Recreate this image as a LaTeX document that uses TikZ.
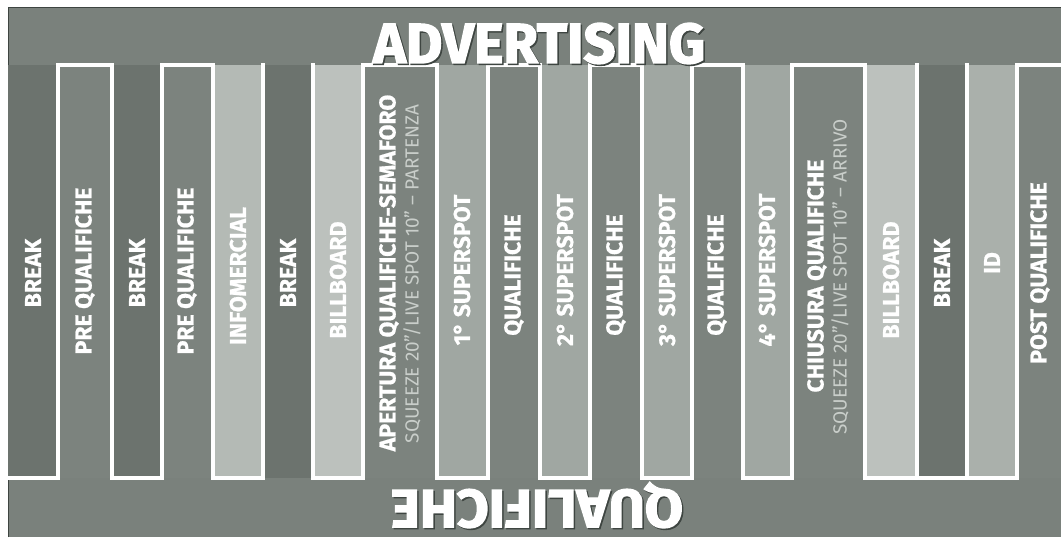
\documentclass[tikz,border=0pt]{standalone}
\usepackage{fontspec}
\setmainfont{Fira Sans}
\usepackage{graphicx}
\definecolor{bgc}{HTML}{7A817C}
\definecolor{cbreak}{HTML}{6C736E}
\definecolor{cqual}{HTML}{7C837E}
\definecolor{clight}{HTML}{B4BAB5}
\definecolor{cbill}{HTML}{BCC1BD}
\definecolor{cspot}{HTML}{A0A7A2}
\definecolor{cid}{HTML}{AAB0AB}
\definecolor{csub}{HTML}{C9CECA}
\definecolor{cshadow}{HTML}{3E4541}
\tikzset{
  lab/.style={text=white, font=\bfseries\fontsize{23}{23}\selectfont\addfontfeature{FakeBold=0.8}, rotate=90, inner sep=0pt},
  sublab/.style={text=csub, font=\fontsize{19}{19}\selectfont, rotate=90, inner sep=0pt},
  wline/.style={draw=white, line width=3.6pt, line join=miter, line cap=rect},
  ttl/.style={font=\bfseries\addfontfeature{FakeBold=2.5}, inner sep=0pt, anchor=base}
}
\begin{document}
\begin{tikzpicture}[x=1pt,y=-1pt]
\useasboundingbox (0,0) rectangle (1061,540);
\fill[white] (0,0) rectangle (1061,540);
% background
\fill[bgc] (8,7) rectangle (1061,537);
\draw[cshadow, line width=0.8pt] (8,537) -- (8,7) -- (1061,7);
% columns
\fill[cbreak] (8,65) rectangle (58,478);
\fill[cqual]  (58,65) rectangle (112,478);
\fill[cbreak] (112,65) rectangle (162,478);
\fill[cqual]  (162,65) rectangle (213,478);
\fill[clight] (213,65) rectangle (263,478);
\fill[cbreak] (263,65) rectangle (313,478);
\fill[cbill]  (313,65) rectangle (363,478);
\fill[cqual]  (363,65) rectangle (437,478);
\fill[cspot]  (437,65) rectangle (488,478);
\fill[cqual]  (488,65) rectangle (540,478);
\fill[cspot]  (540,65) rectangle (590,478);
\fill[cqual]  (590,65) rectangle (642,478);
\fill[cspot]  (642,65) rectangle (692,478);
\fill[cqual]  (692,65) rectangle (743,478);
\fill[cspot]  (743,65) rectangle (792,478);
\fill[cqual]  (792,65) rectangle (865,478);
\fill[cbill]  (865,65) rectangle (917,478);
\fill[cbreak] (917,65) rectangle (967,478);
\fill[cid]    (967,65) rectangle (1017,478);
\fill[cqual]  (1017,65) rectangle (1061,478);
% white separating lines
\draw[wline] (8,478) -- (58,478) -- (58,65) -- (112,65) -- (112,478) -- (162,478) -- (162,65)
  -- (213,65) -- (213,478) -- (263,478) -- (263,65);
\draw[wline] (313,65) -- (313,478) -- (363,478) -- (363,65) -- (437,65) -- (437,478) -- (488,478)
  -- (488,65) -- (540,65) -- (540,478) -- (590,478) -- (590,65) -- (642,65) -- (642,478)
  -- (692,478) -- (692,65) -- (743,65) -- (743,478) -- (792,478) -- (792,65) -- (865,65)
  -- (865,478) -- (1017,478) -- (1017,65) -- (1061,65);
\draw[wline] (917,65) -- (917,478);
\draw[wline] (967,65) -- (967,478);
% titles
\node[ttl, text=cshadow] (advs) at (540.5,64.5) {\resizebox{332pt}{40pt}{ADVERTISING}};
\node[ttl, text=white] (adv) at (539,63) {\resizebox{332pt}{40pt}{ADVERTISING}};
\node[ttl, text=cshadow, rotate=180] (quals) at (538.5,491.5) {\resizebox{292pt}{38pt}{QUALIFICHE}};
\node[ttl, text=white, rotate=180] (qual) at (537,490) {\resizebox{292pt}{38pt}{QUALIFICHE}};
% column labels
\node[lab] (l0) at (33,273) {BREAK};
\node[lab] (l1) at (85,271) {PRE QUALIFICHE};
\node[lab] (l2) at (137,273) {BREAK};
\node[lab] (l3) at (187,271) {PRE QUALIFICHE};
\node[lab] (l4) at (238,276) {INFOMERCIAL};
\node[lab] (l5) at (288,273) {BREAK};
\node[lab] (l6) at (338,280) {BILLBOARD};
\node[lab] (l7) at (389,273) {APERTURA QUALIFICHE-SEMAFORO};
\node[sublab] (s7) at (412,274) {SQUEEZE 20"/LIVE SPOT 10" – PARTENZA};
\node[lab] (l8) at (462,270) {1° SUPERSPOT};
\node[lab] (l9) at (514,275) {QUALIFICHE};
\node[lab] (l10) at (565,270) {2° SUPERSPOT};
\node[lab] (l11) at (616,275) {QUALIFICHE};
\node[lab] (l12) at (667,270) {3° SUPERSPOT};
\node[lab] (l13) at (717,275) {QUALIFICHE};
\node[lab] (l14) at (767,270) {4° SUPERSPOT};
\node[lab] (l15) at (817,276) {CHIUSURA QUALIFICHE};
\node[sublab] (s15) at (840,277) {SQUEEZE 20"/LIVE SPOT 10" – ARRIVO};
\node[lab] (l16) at (891,280) {BILLBOARD};
\node[lab] (l17) at (942,273) {BREAK};
\node[lab] (l18) at (992,263) {ID};
\node[lab] (l19) at (1040,273) {POST QUALIFICHE};
\end{tikzpicture}
\end{document}
